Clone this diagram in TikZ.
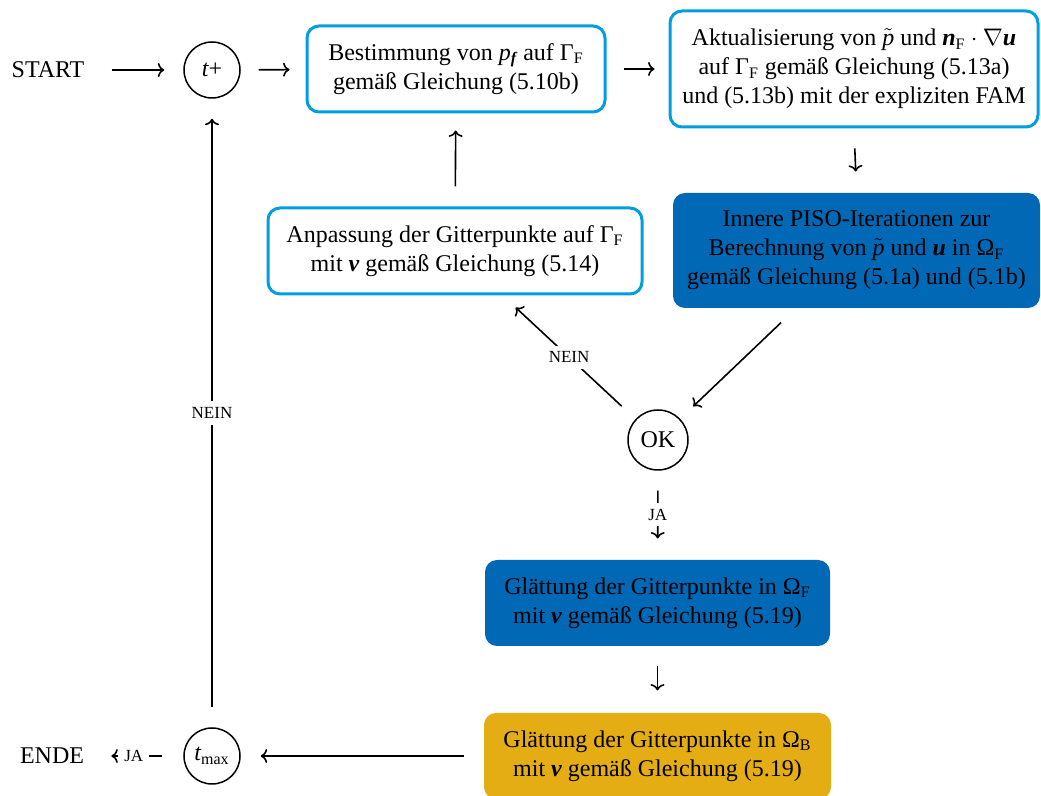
\documentclass[tikz,border=0pt]{standalone}
\usepackage{amsmath}
\usepackage{fontspec}
\setmainfont{Liberation Serif}
\usetikzlibrary{arrows.meta}
\definecolor{lineblue}{RGB}{0,158,224}
\definecolor{darkblue}{RGB}{0,104,181}
\definecolor{gold}{RGB}{229,173,20}
% italic and bold-italic symbols set in the text face
\newcommand{\sym}[1]{\mathit{#1}}
\newcommand{\vsym}[1]{\text{\bfseries\itshape #1}}
\newcommand{\idx}[1]{_{\mathrm{#1}}}
\begin{document}
\begin{tikzpicture}[x=0.5pt,y=-0.5pt,
  txt/.style={font=\fontsize{12}{14.5}\selectfont, inner sep=0pt},
  stagebox/.style={txt, rounded corners=6pt, align=center, line width=1.5pt},
  openbox/.style={stagebox, draw=lineblue, fill=white},
  bluebox/.style={stagebox, fill=darkblue},
  goldbox/.style={stagebox, fill=gold},
  circ/.style={txt, circle, draw, line width=0.75pt, inner sep=0pt},
  lab/.style={fill=white, font=\fontsize{8.5}{10}\selectfont, inner sep=3pt},
  conn/.style={-{To[length=3.2pt,width=7pt]}, line width=0.8pt, shorten <=10pt, shorten >=10pt}]
\useasboundingbox (0,0) rectangle (1041,796);

% terminals and decision circles
\node[txt] (start) at (48,70) {START};
\node[txt] (ende) at (52,756) {ENDE};
\node[circ, minimum size=28pt] (tplus) at (212,70) {$\sym{t}\text{+}$};
\node[circ, minimum size=28pt] (tmax) at (212,756) {$\sym{t}\idx{max}$};
\node[circ, minimum size=30pt] (ok) at (658,440) {OK};

% process steps
\node[openbox, minimum width=149pt, minimum height=43pt] (pf) at (456,69)
  {Bestimmung von $\sym{p}_{\vsym{f}}$ auf $\mathrm{Γ}\idx{F}$\\ gemäß Gleichung (5.10b)};
\node[openbox, minimum width=184pt, minimum height=58pt] (akt) at (854,69)
  {Aktualisierung von $\tilde{\sym{p}}$ und $\vsym{n}\idx{F}\cdot\nabla\vsym{u}$\\
   auf $\mathrm{Γ}\idx{F}$ gemäß Gleichung (5.13a)\\
   und (5.13b) mit der expliziten FAM};
\node[bluebox, minimum width=183.5pt, minimum height=57.5pt] (piso) at (856.5,250.5)
  {Innere PISO-Iterationen zur\\
   Berechnung von $\tilde{\sym{p}}$ und $\vsym{u}$ in $\mathrm{Ω}\idx{F}$\\
   gemäß Gleichung (5.1a) und (5.1b)};
\node[openbox, minimum width=187pt, minimum height=43pt] (anp) at (455,251)
  {Anpassung der Gitterpunkte auf $\mathrm{Γ}\idx{F}$\\ mit $\vsym{v}$ gemäß Gleichung (5.14)};
\node[bluebox, minimum width=172.5pt, minimum height=43pt] (glf) at (657.5,603)
  {Glättung der Gitterpunkte in $\mathrm{Ω}\idx{F}$\\ mit $\vsym{v}$ gemäß Gleichung (5.19)};
\node[goldbox, minimum width=173.5pt, minimum height=43pt] (glb) at (657.5,756)
  {Glättung der Gitterpunkte in $\mathrm{Ω}\idx{B}$\\ mit $\vsym{v}$ gemäß Gleichung (5.19)};

% connectors
\draw[conn, shorten <=13.5pt, shorten >=9.5pt] (start) -- (tplus);
\draw[conn, shorten <=9pt, shorten >=8pt] (tplus) -- (pf);
\draw[conn, shorten <=8.5pt, shorten >=7pt] (pf) -- (akt);
\draw[conn] (akt.south) -- (piso.north);
\draw[conn, shorten <=9.5pt, shorten >=9pt] (piso) -- (ok);
\draw[conn, shorten <=9.4pt, shorten >=8.8pt] (ok) -- node[lab] {NEIN} (anp);
\draw[conn, shorten >=8.5pt] (anp) -- (pf);
\draw[conn] (ok) -- node[lab] {JA} (glf);
\draw[conn, shorten <=9.5pt, shorten >=10.5pt] (glf) -- (glb);
\draw[conn, shorten <=9.5pt] (glb) -- (tmax);
\draw[conn, shorten <=10.5pt, shorten >=13.5pt] (tmax) -- node[lab] {JA} (ende);
\draw[conn] (tmax) -- node[lab] {NEIN} (tplus);
\end{tikzpicture}
\end{document}
